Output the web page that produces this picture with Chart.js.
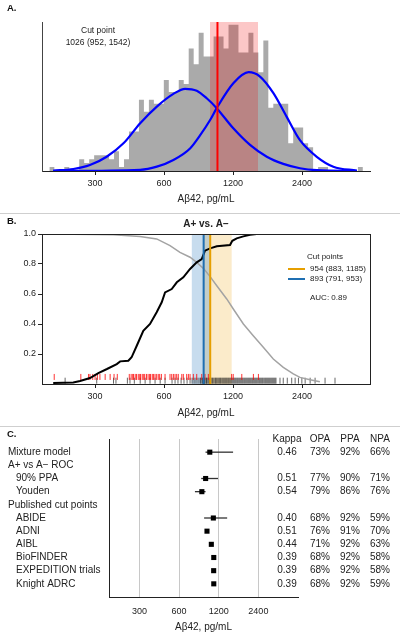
<!DOCTYPE html>
<html lang="en">
<head>
<meta charset="UTF-8">
<title>Aβ42 cut points</title>
<script src="https://cdn.jsdelivr.net/npm/chart.js"></script>
<style>
  body { margin: 0; background: #fff; font-family: 'Liberation Sans', Arial, sans-serif; }
  #wrap { position: relative; width: 400px; height: 640px; overflow: hidden; }
  canvas { position: absolute; left: 0; }
  .lbl { position: absolute; left: 7px; font-weight: bold; font-size: 9.5px; color: #111; line-height: 11px; }
  .sep { position: absolute; left: 0; width: 400px; height: 1px; background: #cfcfcf; }
</style>
</head>
<body>
<div id="wrap">
  <canvas id="chartA" width="400" height="212" style="top:0"></canvas>
  <div class="sep" style="top:213px"></div>
  <canvas id="chartB" width="400" height="212" style="top:214px"></canvas>
  <div class="sep" style="top:426px"></div>
  <canvas id="chartC" width="400" height="213" style="top:427px"></canvas>
  <div class="lbl" style="top:2px">A.</div>
  <div class="lbl" style="top:215px">B.</div>
  <div class="lbl" style="top:428px">C.</div>
</div>
<script>
// shared x axis ticks (pg/mL, log scale)
const xTicks = [300, 600, 1200, 2400];

// panel A: histogram of Aβ42 (log bins) + two mixture components
const binStart = 189.5;
const binLogWidth = 0.05;
const histCounts = [1, 0, 0, 1, 0, 0, 3, 2, 3, 4, 4, 4, 3, 5, 1, 3, 10, 10, 18, 15,
  18, 17, 17, 23, 20, 20, 23, 22, 31, 27, 35, 29, 29, 34, 34, 31, 37, 37, 30, 30,
  35, 30, 25, 33, 16, 17, 17, 17, 7, 11, 11, 7, 6, 0, 1, 1, 0, 0, 0, 0, 0, 0, 1];
const mixLowX = [197, 241, 285, 337, 399, 472, 558, 659, 741, 833, 921, 1018, 1203, 1423, 1684, 1987, 2350, 2783, 4165];
const mixLowY = [0.1, 0.5, 1.5, 3.6, 7.0, 12.1, 16.3, 19.5, 20.8, 20.3, 18.4, 15.9, 10.8, 6.6, 3.6, 1.8, 0.7, 0.2, 0];
const mixHighX = [197, 472, 558, 659, 779, 861, 953, 1018, 1203, 1403, 1573, 1800, 2057, 2350, 2783, 3286, 4165];
const mixHighY = [0, 0.3, 1.1, 2.8, 5.7, 9.0, 12.9, 15.9, 22.2, 25.0, 23.9, 19.7, 13.7, 7.8, 3.6, 1.1, 0.1];
const mixCut = 1026, mixCutLow = 952, mixCutHigh = 1542;

// panel B: A+ vs A- curves
const sensX = [197, 241, 258, 285, 310, 338, 373, 386, 419, 433, 456, 487, 521, 557, 586, 606, 648, 682, 728, 779, 833, 876, 905, 953, 1019, 1164, 1191, 1245, 1331, 1423, 1522, 3341];
const sensY = [0.007, 0.01, 0.02, 0.04, 0.073, 0.10, 0.133, 0.151, 0.155, 0.178, 0.255, 0.355, 0.40, 0.478, 0.545, 0.611, 0.633, 0.678, 0.711, 0.767, 0.811, 0.833, 0.889, 0.904, 0.918, 0.927, 0.955, 0.971, 0.984, 0.995, 1.0, 1.0];
const specX = [197, 361, 471, 557, 637, 704, 779, 833, 890, 953, 1019, 1126, 1203, 1331, 1470, 1626, 1798, 1988, 2198, 2350, 2600, 2870];
const specY = [1.0, 0.995, 0.984, 0.967, 0.922, 0.878, 0.845, 0.811, 0.771, 0.716, 0.655, 0.567, 0.5, 0.4, 0.322, 0.245, 0.167, 0.111, 0.067, 0.044, 0.029, 0.015];
const ppaCut = 954, ppaLow = 883, ppaHigh = 1185;
const youdenCut = 893, youdenLow = 791, youdenHigh = 953;
const aucValue = 0.89;
const aPosValues = [199, 260, 281, 285, 293, 300, 307, 315, 332, 349, 363, 375, 423, 431, 438, 441, 449, 455,
  463, 470, 474, 482, 489, 494, 503, 511, 519, 524, 533, 540, 548, 557, 566, 574, 584, 606, 637, 648, 659,
  670, 681, 692, 717, 728, 753, 766, 779, 805, 833, 876, 905, 936, 1183, 1202, 1310, 1472, 1548];
const aNegValues = [222, 305, 361, 370, 415, 426, 445, 472, 496, 521, 548, 577, 606, 650, 670, 690, 712, 733,
  756, 779, 795, 811, 827, 844, 861, 868, 879, 885, 897, 903, 915, 921, 933, 944, 952, 961, 972, 980, 991,
  1003, 1011, 1021, 1032, 1043, 1053, 1062, 1074, 1085, 1096, 1107, 1118, 1129, 1141, 1152, 1164, 1176,
  1188, 1200, 1212, 1224, 1236, 1249, 1261, 1274, 1287, 1300, 1313, 1326, 1340, 1353, 1367, 1381, 1395,
  1409, 1423, 1437, 1452, 1466, 1481, 1496, 1511, 1526, 1542, 1558, 1573, 1589, 1605, 1620, 1638, 1655,
  1671, 1688, 1705, 1722, 1739, 1757, 1775, 1793, 1811, 1829, 1847, 1923, 1987, 2069, 2163, 2239, 2315,
  2395, 2476, 2603, 2736, 3024, 3342];

// panel C: forest of cut points
const rowLabels = ['Mixture model', 'A+ vs A\u2212 ROC', '90% PPA', 'Youden', 'Published cut points',
  'ABIDE', 'ADNI', 'AIBL', 'BioFINDER', 'EXPEDITION trials', 'Knight ADRC'];
const rowIndent = [0, 0, 1, 1, 0, 1, 1, 1, 1, 1, 1];
const cutEst = [1026, null, 954, 893, null, 1092, 977, 1054, 1100, 1098, 1100];
const cutLow = [952, null, 883, 791, null, 929, null, null, null, null, null];
const cutHigh = [1542, null, 1185, 953, null, 1390, null, null, null, null, null];
const kappa = [0.46, null, 0.51, 0.54, null, 0.40, 0.51, 0.44, 0.39, 0.39, 0.39];
const opa = [73, null, 77, 79, null, 68, 76, 71, 68, 68, 68];
const ppa = [92, null, 90, 86, null, 92, 91, 92, 92, 92, 92];
const npa = [66, null, 71, 76, null, 59, 70, 63, 58, 58, 59];

const FONT = "'Liberation Sans', Arial, sans-serif";
const INK = '#222';

function pts(xs, ys) { return xs.map((x, i) => ({ x: x, y: ys[i] })); }

function text(ctx, str, x, y, size, align, bold) {
  ctx.save();
  ctx.font = (bold ? 'bold ' : '') + size + 'px ' + FONT;
  ctx.fillStyle = INK;
  ctx.textAlign = align || 'left';
  ctx.textBaseline = 'middle';
  ctx.fillText(str, x, y);
  ctx.restore();
}

function logXAxis(min, max, axisHeight, tickPad, withGrid) {
  return {
    type: 'logarithmic', min: min, max: max,
    afterBuildTicks: s => { s.ticks = xTicks.map(v => ({ value: v })); },
    afterFit: s => { s.height = axisHeight; },
    ticks: { callback: v => String(v), font: { family: FONT, size: 9 }, color: INK,
      padding: tickPad, maxRotation: 0, autoSkip: false },
    grid: withGrid
      ? { display: true, drawTicks: false, color: '#c8c8c8', lineWidth: 1 }
      : { drawOnChartArea: false, drawTicks: true, tickLength: 4, color: INK },
    border: { display: true, color: INK, width: 1 },
    title: { display: true, text: 'A\u03b242, pg/mL', font: { family: FONT, size: 10 }, color: INK,
      padding: { top: 0, bottom: 7 } }
  };
}

const baseOpts = {
  responsive: false, animation: false, events: [],
  plugins: { legend: { display: false }, tooltip: { enabled: false } },
  elements: { point: { radius: 0 } }
};

// ---------- panel A ----------
const histPoints = histCounts.map((c, k) => ({ x: binStart * Math.exp(binLogWidth * k), y: c }));
histPoints.push({ x: binStart * Math.exp(binLogWidth * histCounts.length), y: 0 });
const yMaxA = 37.7;

new Chart(document.getElementById('chartA'), {
  type: 'line',
  data: { datasets: [
    { data: [{ x: mixCut, y: 0 }, { x: mixCut, y: yMaxA }], borderColor: '#ff0000', borderWidth: 2, order: 1 },
    { data: pts(mixLowX, mixLowY), borderColor: '#0000ff', borderWidth: 2.2, cubicInterpolationMode: 'monotone', order: 2 },
    { data: pts(mixHighX, mixHighY), borderColor: '#0000ff', borderWidth: 2.2, cubicInterpolationMode: 'monotone', order: 2 },
    { data: [{ x: mixCutLow, y: yMaxA }, { x: mixCutHigh, y: yMaxA }], borderWidth: 0,
      fill: 'origin', backgroundColor: 'rgba(240,0,0,0.22)', order: 4 },
    { data: histPoints, stepped: 'before', borderWidth: 0, fill: 'origin', backgroundColor: '#aaaaaa', order: 5 }
  ] },
  options: Object.assign({}, baseOpts, {
    layout: { padding: { top: 22, right: 30, bottom: 0, left: 0 } },
    scales: {
      x: logXAxis(176, 4750, 41, 3, false),
      y: { min: 0, max: yMaxA, ticks: { display: false }, grid: { display: false },
        border: { display: true, color: '#444' }, afterFit: s => { s.width = 42; } }
    }
  }),
  plugins: [{
    id: 'noteA',
    afterDraw(chart) {
      text(chart.ctx, 'Cut point', 98, 31, 8.5, 'center');
      text(chart.ctx, mixCut + ' (' + mixCutLow + ', ' + mixCutHigh + ')', 98, 43, 8.5, 'center');
    }
  }]
});

// ---------- panel B ----------
const orange = '#e69f00', blue = '#1f6fb2';
new Chart(document.getElementById('chartB'), {
  type: 'line',
  data: { datasets: [
    { data: [{ x: ppaCut, y: 0 }, { x: ppaCut, y: 1 }], borderColor: orange, borderWidth: 2, order: 1 },
    { data: [{ x: youdenCut, y: 0 }, { x: youdenCut, y: 1 }], borderColor: blue, borderWidth: 2, order: 1 },
    { data: pts(sensX, sensY), borderColor: '#000', borderWidth: 2, order: 2 },
    { data: pts(specX, specY), borderColor: '#a3a3a3', borderWidth: 1.5, order: 3 },
    { data: aPosValues.map(v => ({ x: v, y: 0.047 })), showLine: false, pointStyle: 'line', pointRotation: 90,
      pointRadius: 3, pointBorderWidth: 1, pointBorderColor: 'rgba(255,0,0,0.8)', order: 4 },
    { data: aNegValues.map(v => ({ x: v, y: 0.022 })), showLine: false, pointStyle: 'line', pointRotation: 90,
      pointRadius: 3, pointBorderWidth: 1, pointBorderColor: 'rgba(0,0,0,0.6)', order: 5 },
    { data: [{ x: youdenLow, y: 1 }, { x: youdenHigh, y: 1 }], borderWidth: 0, fill: 'origin',
      backgroundColor: 'rgba(70,140,200,0.3)', order: 6 },
    { data: [{ x: ppaLow, y: 1 }, { x: ppaHigh, y: 1 }], borderWidth: 0, fill: 'origin',
      backgroundColor: 'rgba(240,180,60,0.27)', order: 7 }
  ] },
  options: Object.assign({}, baseOpts, {
    layout: { padding: { top: 20, right: 30, bottom: 0, left: 0 } },
    scales: {
      x: logXAxis(176, 4750, 42, 3, false),
      y: { min: 0, max: 1,
        afterBuildTicks: s => { s.ticks = [0.2, 0.4, 0.6, 0.8, 1.0].map(v => ({ value: v })); },
        afterFit: s => { s.width = 42; },
        ticks: { callback: v => v.toFixed(1), font: { family: FONT, size: 9 }, color: INK, padding: 2 },
        grid: { drawOnChartArea: false, drawTicks: true, tickLength: 4, color: INK },
        border: { display: true, color: INK } }
    }
  }),
  plugins: [{
    id: 'frameB',
    afterDraw(chart) {
      const a = chart.chartArea, ctx = chart.ctx;
      ctx.save();
      ctx.strokeStyle = INK; ctx.lineWidth = 1;
      ctx.strokeRect(a.left + 0.5, a.top + 0.5, a.right - a.left, a.bottom - a.top);
      ctx.lineWidth = 2;
      ctx.strokeStyle = orange;
      ctx.beginPath(); ctx.moveTo(288, 55); ctx.lineTo(305, 55); ctx.stroke();
      ctx.strokeStyle = blue;
      ctx.beginPath(); ctx.moveTo(288, 65); ctx.lineTo(305, 65); ctx.stroke();
      ctx.restore();
      text(ctx, 'A+ vs. A\u2212', (a.left + a.right) / 2, 10, 10, 'center', true);
      text(ctx, 'Cut points', 307, 43, 8, 'left');
      text(ctx, ppaCut + ' (' + ppaLow + ', ' + ppaHigh + ')', 310, 55, 8, 'left');
      text(ctx, youdenCut + ' (' + youdenLow + ', ' + youdenHigh + ')', 310, 65, 8, 'left');
      text(ctx, 'AUC: ' + aucValue.toFixed(2), 310, 84, 8, 'left');
    }
  }]
});

// ---------- panel C ----------
const ciSets = [];
cutEst.forEach((v, i) => {
  if (cutLow[i] != null) {
    ciSets.push({ data: [{ x: cutLow[i], y: i }, { x: cutHigh[i], y: i }], borderColor: '#333', borderWidth: 1.3, order: 2 });
  }
});
const estPoints = [];
cutEst.forEach((v, i) => { if (v != null) estPoints.push({ x: v, y: i }); });

new Chart(document.getElementById('chartC'), {
  type: 'line',
  data: { datasets: [
    { data: estPoints, showLine: false, pointStyle: 'rect', pointRadius: 3.6, pointBackgroundColor: '#000',
      pointBorderWidth: 0, order: 1 }
  ].concat(ciSets) },
  options: Object.assign({}, baseOpts, {
    layout: { padding: { top: 12, right: 102, bottom: 0, left: 0 } },
    scales: {
      x: logXAxis(176, 4800, 43, 9, true),
      y: { type: 'linear', min: -1, max: 11, reverse: true, ticks: { display: false },
        grid: { display: false }, border: { display: true, color: INK },
        afterFit: s => { s.width = 109; } }
    }
  }),
  plugins: [{
    id: 'tableC',
    afterDraw(chart) {
      const ctx = chart.ctx, ys = chart.scales.y;
      const cols = [287, 320, 350, 380];
      const hy = ys.getPixelForValue(-1);
      ['Kappa', 'OPA', 'PPA', 'NPA'].forEach((h, j) => text(ctx, h, cols[j], hy, 10, 'center'));
      rowLabels.forEach((lab, i) => {
        const y = ys.getPixelForValue(i);
        text(ctx, lab, rowIndent[i] ? 16 : 8, y, 10, 'left');
        if (kappa[i] != null) {
          text(ctx, kappa[i].toFixed(2), cols[0], y, 10, 'center');
          text(ctx, opa[i] + '%', cols[1], y, 10, 'center');
          text(ctx, ppa[i] + '%', cols[2], y, 10, 'center');
          text(ctx, npa[i] + '%', cols[3], y, 10, 'center');
        }
      });
    }
  }]
});
</script>
</body>
</html>
